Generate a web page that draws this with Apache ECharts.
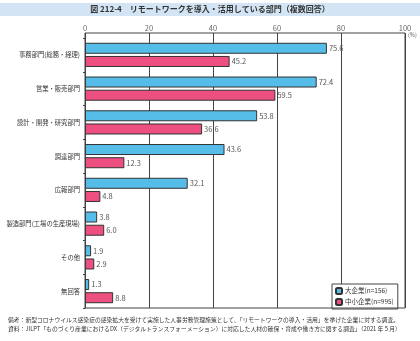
<!DOCTYPE html>
<html>
<head>
<meta charset="utf-8">
<script src="https://cdn.jsdelivr.net/npm/echarts@6/dist/echarts.min.js"></script>
<style>
html,body{margin:0;padding:0;background:#fff;}
#c{width:420px;height:341px;}
</style>
</head>
<body>
<div id="c"></div>
<script>
var categories = ['事務部門(総務・経理)', '営業・販売部門', '設計・開発・研究部門', '調達部門', '広報部門', '製造部門(工場の生産現場)', 'その他', '無回答'];
var largeFirms = [75.6, 72.4, 53.8, 43.6, 32.1, 3.8, 1.9, 1.3];
var smeFirms = [45.2, 59.5, 36.6, 12.3, 4.8, 6.0, 2.9, 8.8];
var seriesNames = ['大企業(n=156)', '中小企業(n=995)'];
var xTicks = [0, 20, 40, 60, 80, 100];

var FONT = '"Noto Sans CJK JP", "Noto Sans", sans-serif';
var chart = echarts.init(document.getElementById('c'), null, {renderer: 'canvas'});
var L = 85, R = 405, T = 38, B = 308;
var option = {
  animation: false,
  backgroundColor: '#fff',
  textStyle: {fontFamily: FONT},
  grid: {left: L, right: 420 - R, top: T, bottom: 341 - B, containLabel: false},
  xAxis: {
    type: 'value', position: 'top', min: xTicks[0], max: xTicks[xTicks.length - 1], interval: 20,
    axisLine: {show: false},
    axisTick: {show: true, length: 5, lineStyle: {color: '#444', width: 1}},
    splitLine: {show: true, lineStyle: {color: '#444', width: 1}},
    axisLabel: {color: '#666', fontSize: 7.5, margin: 6, fontFamily: FONT}
  },
  yAxis: {
    type: 'category', data: categories, inverse: true,
    axisLine: {show: true, lineStyle: {color: '#444'}},
    axisTick: {show: true, length: 2, lineStyle: {color: '#444'}},
    axisLabel: {color: '#333', fontSize: 6.3, margin: 5, fontFamily: FONT}
  },
  legend: {
    orient: 'vertical', left: 332, top: 284, itemWidth: 6, itemHeight: 6, itemGap: 3,
    padding: [3, 4, 3, 3], borderColor: '#444', borderWidth: 1, backgroundColor: '#fff',
    textStyle: {fontSize: 6.5, color: '#333', fontFamily: FONT, padding: [0, 0, 0, -2]},
    data: seriesNames
  },
  series: [
    {
      name: seriesNames[0], type: 'bar', data: largeFirms, barWidth: 11, barGap: '20%',
      itemStyle: {color: '#56bde9', borderColor: '#333', borderWidth: 1},
      label: {show: true, position: 'right', distance: 2, color: '#555', fontSize: 7.5, fontFamily: FONT,
        formatter: function (p) { return p.value.toFixed(1); }}
    },
    {
      name: seriesNames[1], type: 'bar', data: smeFirms, barWidth: 11,
      itemStyle: {color: '#ec4f80', borderColor: '#333', borderWidth: 1},
      label: {show: true, position: 'right', distance: 2, color: '#555', fontSize: 7.5, fontFamily: FONT,
        formatter: function (p) { return p.value.toFixed(1); }}
    }
  ],
  graphic: [
    {type: 'rect', left: 0, top: 3, shape: {width: 420, height: 13}, style: {fill: '#d3e5f5'}, z: -1},
    {type: 'text', left: 'center', top: 5, style: {text: '図 212-4　リモートワークを導入・活用している部門（複数回答）', font: 'bold 8px ' + FONT, fill: '#333'}},
    {type: 'rect', shape: {x: L, y: 33, width: R - L, height: B - 33}, style: {fill: 'none', stroke: '#444', lineWidth: 1}, z: 10},
    {type: 'text', left: 408, top: 32, style: {text: '(%)', font: '5.5px ' + FONT, fill: '#555'}},
    {type: 'text', left: 8, top: 317, style: {text: '備考：新型コロナウイルス感染症の感染拡大を受けて実施した人事労務管理施策として、「リモートワークの導入・活用」を挙げた企業に対する調査。', font: '5.8px ' + FONT, fill: '#333'}},
    {type: 'text', left: 8, top: 326, style: {text: '資料：JILPT「ものづくり産業におけるDX（デジタルトランスフォーメーション）に対応した人材の確保・育成や働き方に関する調査」（2021 年 5 月）', font: '5.8px ' + FONT, fill: '#333'}}
  ]
};
chart.setOption(option);
</script>
</body>
</html>
